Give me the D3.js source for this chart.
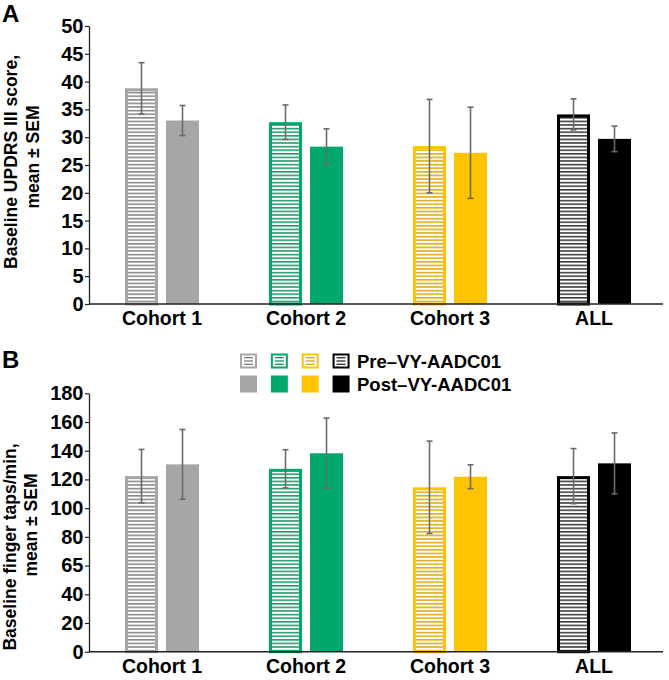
<!DOCTYPE html>
<html>
<head>
<meta charset="utf-8">
<script src="https://cdn.jsdelivr.net/npm/d3@7"></script>
<style>
  html, body { margin: 0; padding: 0; background: #fff; }
  svg { display: block; font-family: "Liberation Sans", Arial, Helvetica, sans-serif; font-weight: bold; }
</style>
</head>
<body>
<svg id="chart" width="669" height="680"></svg>
<script>
// ---------------- data ----------------
const categories = ["Cohort 1", "Cohort 2", "Cohort 3", "ALL"];
const groupColors = ["#a6a6a6", "#00a86b", "#ffc400", "#000000"];
const stripeColors = ["#7d7d7d", "#0e8f5c", "#d9a600", "#2a2a2a"];
const phases = ["pre", "post"];

// Panel A: Baseline UPDRS III score
const updrsPre = [38.8, 32.7, 28.4, 34.1];
const updrsPreSem = [4.6, 3.1, 8.4, 2.8];
const updrsPost = [33.0, 28.3, 27.2, 29.7];
const updrsPostSem = [2.7, 3.2, 8.2, 2.3];
const ticksA = [0, 5, 10, 15, 20, 25, 30, 35, 40, 45, 50];
const tickLabelsA = ["0", "5", "10", "15", "20", "25", "30", "35", "40", "45", "50"];

// Panel B: Baseline finger taps/min
const tapsPre = [122.3, 127.4, 114.5, 122.3];
const tapsPreSem = [18.6, 13.3, 32.2, 19.2];
const tapsPost = [130.5, 138.2, 121.9, 131.2];
const tapsPostSem = [24.3, 24.5, 8.3, 21.2];
const ticksB = [0, 20, 40, 60, 80, 100, 120, 140, 160, 180];
const tickLabelsB = ["0", "20", "40", "65", "80", "100", "120", "140", "160", "180"];

const legendLabels = ["Pre\u2013VY-AADC01", "Post\u2013VY-AADC01"];

// ---------------- drawing ----------------
const svg = d3.select("#chart");
const defs = svg.append("defs");

groupColors.forEach((c, i) => {
  const p = defs.append("pattern")
    .attr("id", "hatch" + i)
    .attr("patternUnits", "userSpaceOnUse")
    .attr("width", 8).attr("height", 3.6);
  p.append("rect").attr("width", 8).attr("height", 3.6).attr("fill", "#fff");
  p.append("rect").attr("y", 1.8).attr("width", 8).attr("height", 1.6)
    .attr("fill", stripeColors[i]).attr("opacity", 0.9);
});

const x = d3.scaleBand().domain(categories).range([90, 666]);
const xSub = d3.scaleBand().domain(phases).range([-37, 37]).paddingInner(8 / 41);
const axisRight = 663;
const fontFam = "'Liberation Sans', Arial, sans-serif";

function panel(cfg) {
  const g = svg.append("g");
  const y = d3.scaleLinear().domain(cfg.domain).range(cfg.range);

  // y axis
  const yAxis = d3.axisLeft(y).tickValues(cfg.ticks)
    .tickFormat((d, i) => cfg.tickLabels[i])
    .tickSize(4).tickSizeOuter(0).tickPadding(1.5);
  const ya = g.append("g").attr("transform", "translate(89,0)").call(yAxis);
  ya.select(".domain").attr("stroke", "#222").attr("stroke-width", 1.3);
  ya.selectAll(".tick line").attr("stroke", "#222").attr("stroke-width", 1.2);
  ya.selectAll(".tick text").attr("fill", "#000")
    .style("font-size", "20px").style("font-weight", "bold")
    .style("font-family", fontFam);

  // bars
  categories.forEach((cat, i) => {
    const cx = x(cat) + x.bandwidth() / 2;
    const bw = xSub.bandwidth();
    const xp = cx + xSub("pre");
    const vp = cfg.pre[i];
    g.append("rect")
      .attr("x", xp + 1.5).attr("y", y(vp) + 1.5)
      .attr("width", bw - 3).attr("height", y(0) - y(vp) - 1.5)
      .attr("fill", "url(#hatch" + i + ")")
      .attr("stroke", groupColors[i]).attr("stroke-width", 3);
    const xq = cx + xSub("post");
    const vq = cfg.post[i];
    g.append("rect")
      .attr("x", xq).attr("y", y(vq))
      .attr("width", bw).attr("height", y(0) - y(vq))
      .attr("fill", groupColors[i]);

    [[xp, vp, cfg.preSem[i]], [xq, vq, cfg.postSem[i]]].forEach(([bx, v, s]) => {
      const ex = bx + bw / 2;
      const eg = g.append("g").attr("stroke", "#6b6b6b").attr("stroke-width", 1.6);
      eg.append("line").attr("x1", ex).attr("x2", ex).attr("y1", y(v + s)).attr("y2", y(v - s));
      eg.append("line").attr("x1", ex - 3).attr("x2", ex + 3).attr("y1", y(v + s)).attr("y2", y(v + s));
      eg.append("line").attr("x1", ex - 3).attr("x2", ex + 3).attr("y1", y(v - s)).attr("y2", y(v - s));
    });
  });

  // x axis
  const xAxis = d3.axisBottom(x).tickSize(0).tickSizeOuter(0).tickPadding(7);
  const xa = g.append("g").attr("transform", `translate(0,${y(0)})`).call(xAxis);
  xa.select(".domain").attr("d", `M89,0H${axisRight}`).attr("stroke", "#222").attr("stroke-width", 1.5);
  xa.selectAll(".tick text").attr("fill", "#000")
    .style("font-size", "19.5px").style("font-weight", "bold")
    .style("font-family", fontFam);

  // y title
  cfg.title.forEach(t => {
    g.append("text")
      .attr("transform", `translate(${t.x},${t.cy}) rotate(-90)`)
      .attr("text-anchor", "middle")
      .style("font-size", "17.5px")
      .attr("fill", "#000")
      .text(t.text);
  });

  // panel letter
  g.append("text").attr("x", 2).attr("y", cfg.letterY)
    .style("font-size", "24px").attr("fill", "#000").text(cfg.letter);
}

panel({
  domain: [0, 50], range: [304, 26],
  ticks: ticksA, tickLabels: tickLabelsA,
  pre: updrsPre, preSem: updrsPreSem, post: updrsPost, postSem: updrsPostSem,
  title: [{ text: "Baseline UPDRS III score,", x: 17, cy: 162 },
          { text: "mean  \u00b1 SEM", x: 39, cy: 157 }],
  letter: "A", letterY: 22
});

panel({
  domain: [0, 180], range: [651.7, 393.3],
  ticks: ticksB, tickLabels: tickLabelsB,
  pre: tapsPre, preSem: tapsPreSem, post: tapsPost, postSem: tapsPostSem,
  title: [{ text: "Baseline finger taps/min,", x: 16, cy: 547 },
          { text: "mean \u00b1 SEM", x: 37, cy: 525 }],
  letter: "B", letterY: 368
});

// legend
const lg = svg.append("g");
const legX = d3.scaleBand().domain(d3.range(groupColors.length)).range([240, 348]).paddingInner(0.5);
const legRows = [361, 384];
groupColors.forEach((c, i) => {
  const lx = legX(i);
  const w = 17;
  lg.append("rect").attr("x", lx + 1).attr("y", legRows[0] - 7.5 + 1)
    .attr("width", w - 2).attr("height", 15 - 2)
    .attr("fill", "#fff").attr("stroke", c).attr("stroke-width", 2);
  [0.28, 0.5, 0.72].forEach(f => {
    lg.append("line").attr("x1", lx + 4).attr("x2", lx + w - 4)
      .attr("y1", legRows[0] - 7.5 + 15 * f).attr("y2", legRows[0] - 7.5 + 15 * f)
      .attr("stroke", stripeColors[i]).attr("stroke-width", 1.3);
  });
  lg.append("rect").attr("x", lx).attr("y", legRows[1] - 8.5)
    .attr("width", w).attr("height", 17).attr("fill", c);
});
legendLabels.forEach((t, k) => {
  lg.append("text").attr("x", 357).attr("y", legRows[k] + 6.5)
    .style("font-size", "18.5px").attr("fill", "#000").text(t);
});
</script>
</body>
</html>
